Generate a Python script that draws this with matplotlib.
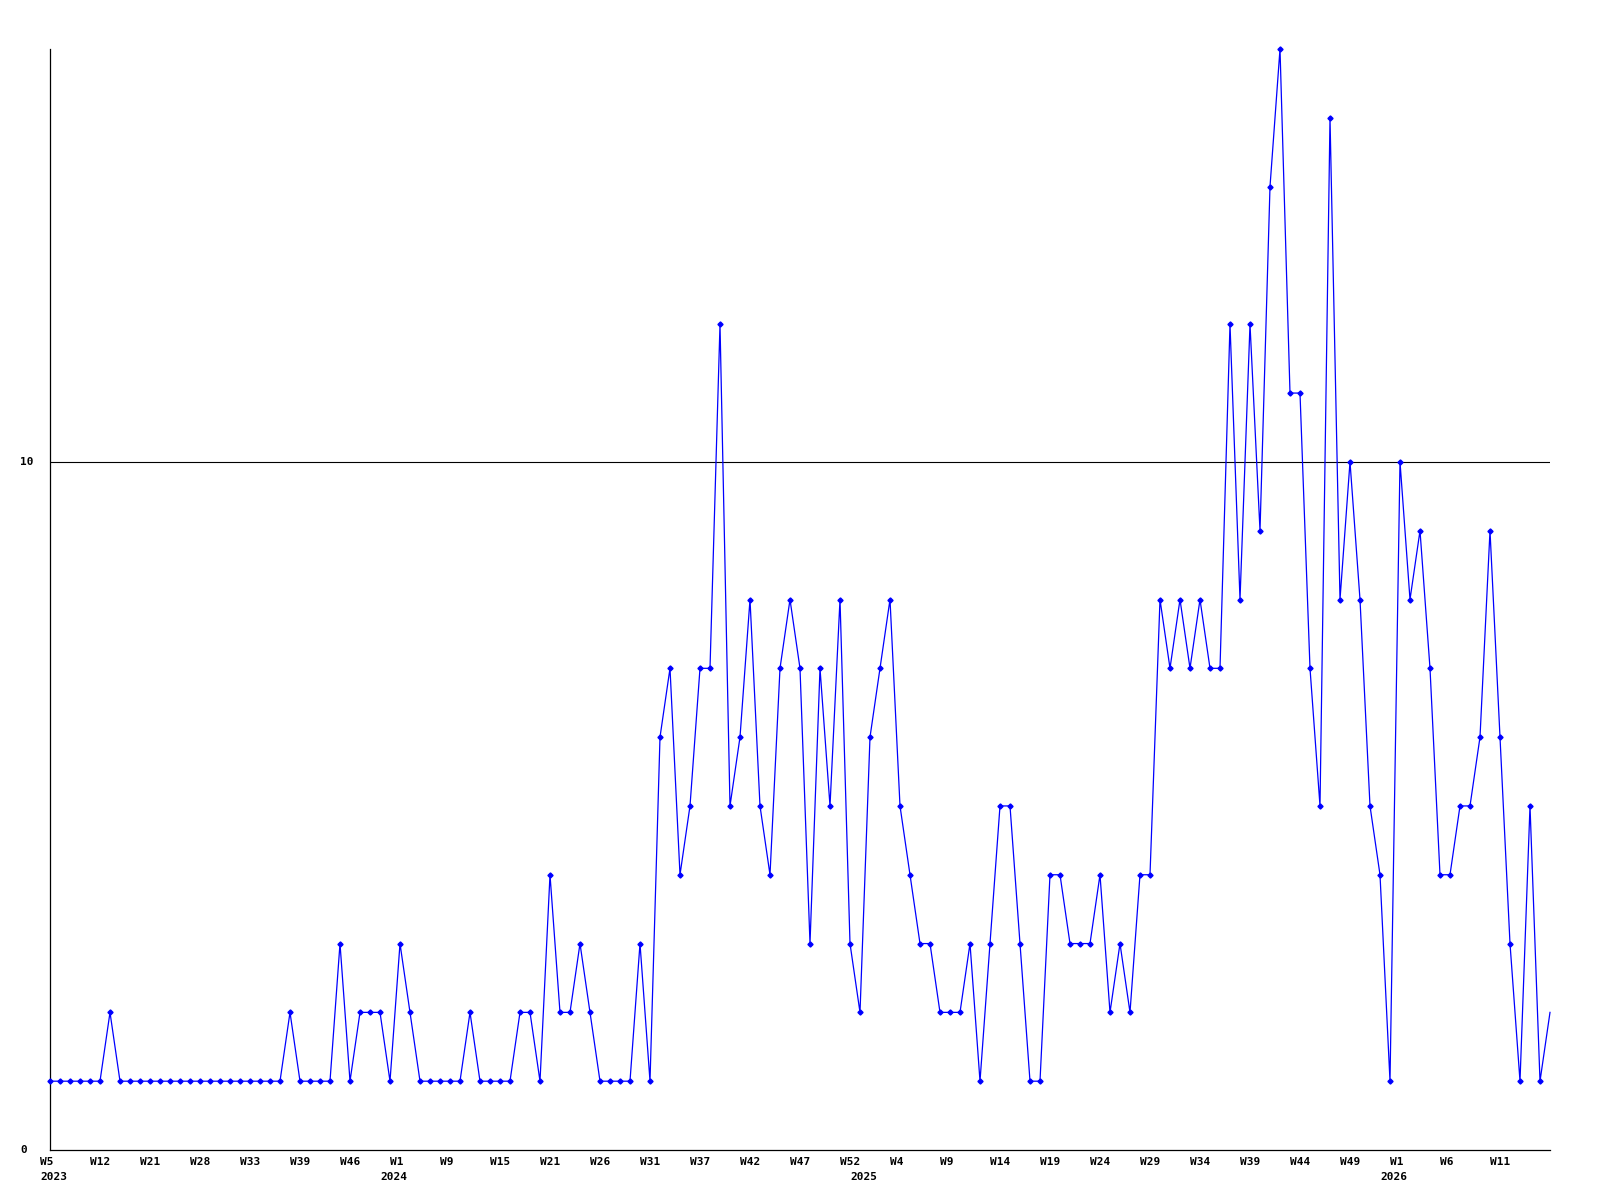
import matplotlib
matplotlib.use("Agg")
import matplotlib.pyplot as plt
from matplotlib.transforms import blended_transform_factory

# ================= 数据 =================
# 每周计数 (2023 W5 起, 共 151 个点)
counts = [
    1, 1, 1, 1, 1, 1, 2, 1, 1, 1,
    1, 1, 1, 1, 1, 1, 1, 1, 1, 1,
    1, 1, 1, 1, 2, 1, 1, 1, 1, 3,
    1, 2, 2, 2, 1, 3, 2, 1, 1, 1,
    1, 1, 2, 1, 1, 1, 1, 2, 2, 1,
    4, 2, 2, 3, 2, 1, 1, 1, 1, 3,
    1, 6, 7, 4, 5, 7, 7, 12, 5, 6,
    8, 5, 4, 7, 8, 7, 3, 7, 5, 8,
    3, 2, 6, 7, 8, 5, 4, 3, 3, 2,
    2, 2, 3, 1, 3, 5, 5, 3, 1, 1,
    4, 4, 3, 3, 3, 4, 2, 3, 2, 4,
    4, 8, 7, 8, 7, 8, 7, 7, 12, 8,
    12, 9, 14, 16, 11, 11, 7, 5, 15, 8,
    10, 8, 5, 4, 1, 10, 8, 9, 7, 4,
    4, 5, 5, 6, 9, 6, 3, 1, 5, 1,
    2,
]

# 每 5 个点一个周标签
week_ticks = [
    "W5", "W12", "W21", "W28", "W33", "W39", "W46", "W1", "W9", "W15",
    "W21", "W26", "W31", "W37", "W42", "W47", "W52", "W4", "W9", "W14",
    "W19", "W24", "W29", "W34", "W39", "W44", "W49", "W1", "W6", "W11",
]
years = ["2023", "2024", "2025", "2026"]
year_idx = [0, 34, 81, 134]

# ================= 绘图 =================
FONT = dict(family="DejaVu Sans Mono", fontweight="bold", fontsize=8)

fig = plt.figure(figsize=(16, 12), dpi=100)
ax = fig.add_axes([50 / 1600, 50 / 1200, 1500 / 1600, 1101 / 1200])

x = list(range(len(counts)))
ax.plot(x, counts, color="#0000ff", linewidth=0.9, clip_on=False, zorder=3)
ax.plot(x[:-1], counts[:-1], linestyle="none", marker="D", markersize=2.6,
        color="#0000ff", clip_on=False, zorder=4)

ax.axhline(10, color="black", linewidth=0.8, zorder=2)

ax.set_xlim(0, len(counts) - 1)
ax.set_ylim(0, 16)
ax.spines["top"].set_visible(False)
ax.spines["right"].set_visible(False)
ax.spines["left"].set_linewidth(0.9)
ax.spines["bottom"].set_linewidth(0.9)
ax.set_xticks([])
ax.set_yticks([])

# y 轴标签 (左对齐)
ytr = blended_transform_factory(fig.transFigure, ax.transData)
for v in [0, 10]:
    ax.text(20 / 1600, v, str(v), transform=ytr, ha="left", va="center", **FONT)

# x 轴周标签和年份
xtr = blended_transform_factory(ax.transData, fig.transFigure)
for k, lab in enumerate(week_ticks):
    ax.text(k * 5 - 1, 38 / 1200, lab, transform=xtr, ha="left", va="center",
            clip_on=False, **FONT)
for yi, yr in zip(year_idx, years):
    ax.text(yi - 1, 23 / 1200, yr, transform=xtr, ha="left", va="center",
            clip_on=False, **FONT)

fig.savefig("out.png", dpi=100)
